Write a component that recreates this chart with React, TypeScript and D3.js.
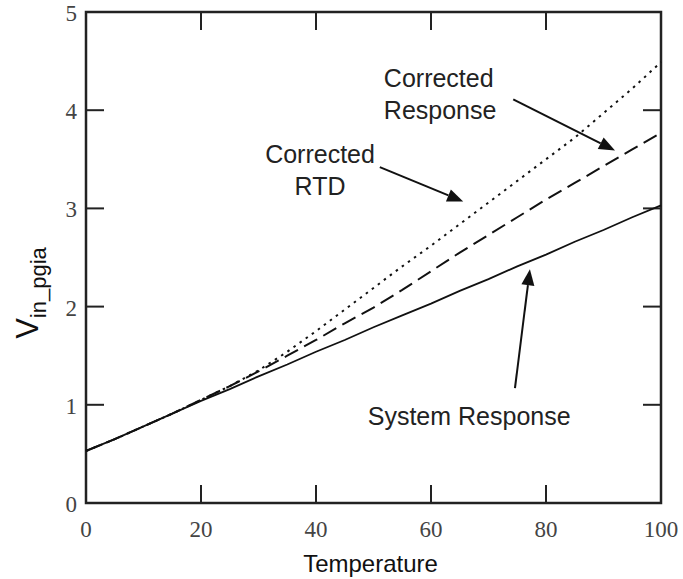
import React, { useEffect, useRef } from "react";
import * as d3 from "d3";

// temperature samples (x) and the three measured curves
const temps = [0, 5, 10, 15, 20, 25, 30, 35, 40, 45, 50, 55, 60, 65, 70, 75, 80, 85, 90, 95, 100];
const systemResponse = [0.53, 0.65, 0.78, 0.91, 1.04, 1.16, 1.29, 1.41, 1.54, 1.66, 1.79, 1.91, 2.03, 2.16, 2.28, 2.41, 2.53, 2.66, 2.78, 2.91, 3.03];
const correctedResponse = [0.53, 0.65, 0.78, 0.91, 1.05, 1.19, 1.34, 1.5, 1.66, 1.83, 1.99, 2.17, 2.36, 2.55, 2.73, 2.91, 3.09, 3.26, 3.43, 3.6, 3.77];
const correctedRTD = [0.53, 0.65, 0.78, 0.91, 1.05, 1.19, 1.35, 1.54, 1.75, 1.97, 2.19, 2.41, 2.62, 2.84, 3.06, 3.28, 3.5, 3.72, 3.97, 4.22, 4.49];

const xTicks = [0, 20, 40, 60, 80, 100];
const yTicks = [0, 1, 2, 3, 4, 5];

// annotations in data units: [x, y]
const notes = [
  { lines: ["Corrected", "RTD"], at: [40.7, 3.46], anchor: "middle", from: [51.1, 3.42], to: [65.6, 3.07] },
  { lines: ["Corrected", "Response"], at: [51.8, 4.24], anchor: "start", from: [74.3, 4.11], to: [92, 3.59] },
  { lines: ["System Response"], at: [49, 0.79], anchor: "start", from: [74.6, 1.17], to: [77.2, 2.38] },
];

export default function App() {
  const ref = useRef<SVGSVGElement>(null);

  useEffect(() => {
    const svg = d3.select(ref.current);
    svg.selectAll("*").remove();

    const W = 683, H = 579;
    const left = 86, right = 661, top = 12, bottom = 503;

    const x = d3.scaleLinear().domain([0, 100]).range([left, right]);
    const y = d3.scaleLinear().domain([0, 5]).range([bottom, top]);

    svg.append("rect").attr("width", W).attr("height", H).attr("fill", "#fff");

    const tickLen = 18;
    const axisColor = "#222";

    // ticks on all four sides, pointing in
    const tk = svg.append("g").attr("stroke", axisColor).attr("stroke-width", 2);
    xTicks.forEach((t) => {
      tk.append("line").attr("x1", x(t)).attr("x2", x(t)).attr("y1", bottom).attr("y2", bottom - tickLen);
      tk.append("line").attr("x1", x(t)).attr("x2", x(t)).attr("y1", top).attr("y2", top + tickLen);
    });
    yTicks.forEach((t) => {
      tk.append("line").attr("x1", left).attr("x2", left + tickLen).attr("y1", y(t)).attr("y2", y(t));
      tk.append("line").attr("x1", right).attr("x2", right - tickLen).attr("y1", y(t)).attr("y2", y(t));
    });

    // frame
    svg.append("rect")
      .attr("x", left).attr("y", top)
      .attr("width", right - left).attr("height", bottom - top)
      .attr("fill", "none").attr("stroke", axisColor).attr("stroke-width", 2.5);

    // tick labels
    const serif = "'Liberation Serif', 'DejaVu Serif', serif";
    svg.append("g").selectAll("text").data(xTicks).join("text")
      .attr("x", (d) => x(d)).attr("y", 537)
      .attr("text-anchor", "middle")
      .attr("font-family", serif).attr("font-size", 23).attr("fill", "#444")
      .text((d) => d);
    svg.append("g").selectAll("text").data(yTicks).join("text")
      .attr("x", left - 9).attr("y", (d) => y(d) + 9)
      .attr("text-anchor", "end")
      .attr("font-family", serif).attr("font-size", 23).attr("fill", "#444")
      .text((d) => d);

    const sans = "'Liberation Sans', Arial, sans-serif";

    // axis titles
    svg.append("text")
      .attr("x", (left + right) / 2 - 3).attr("y", 572)
      .attr("text-anchor", "middle")
      .attr("font-family", sans).attr("font-size", 24).attr("fill", "#111")
      .text("Temperature");

    const yl = svg.append("text")
      .attr("transform", "translate(38,293) rotate(-90)")
      .attr("text-anchor", "middle")
      .attr("font-family", sans).attr("fill", "#111");
    yl.append("tspan").attr("font-size", 31).text("V");
    yl.append("tspan").attr("font-size", 22).attr("dy", 8).text("in_pgia");

    // curves
    const line = d3.line<number>().x((_, i) => x(temps[i])).y((d) => y(d));
    const series = [
      { values: systemResponse, dash: null, w: 1.8 },
      { values: correctedResponse, dash: "15,7", w: 2 },
      { values: correctedRTD, dash: "2.5,5", w: 2 },
    ];
    svg.append("g").selectAll("path").data(series).join("path")
      .attr("d", (d) => line(d.values))
      .attr("fill", "none").attr("stroke", "#111").attr("stroke-width", (d) => d.w)
      .attr("stroke-dasharray", (d) => d.dash);

    // annotations + arrows
    notes.forEach((n) => {
      const t = svg.append("text")
        .attr("x", x(n.at[0])).attr("y", y(n.at[1]))
        .attr("text-anchor", n.anchor)
        .attr("font-family", sans).attr("font-size", 25).attr("fill", "#222");
      n.lines.forEach((s, i) => {
        t.append("tspan").attr("x", x(n.at[0])).attr("dy", i === 0 ? 0 : 32).text(s);
      });

      const x0 = x(n.from[0]), y0 = y(n.from[1]);
      const x1 = x(n.to[0]), y1 = y(n.to[1]);
      const a = Math.atan2(y1 - y0, x1 - x0);
      const hl = 16, hw = 6.5;
      const bx = x1 - hl * Math.cos(a), by = y1 - hl * Math.sin(a);
      svg.append("line")
        .attr("x1", x0).attr("y1", y0).attr("x2", bx).attr("y2", by)
        .attr("stroke", "#111").attr("stroke-width", 2);
      svg.append("path")
        .attr("d", `M${x1},${y1}L${bx - hw * Math.sin(a)},${by + hw * Math.cos(a)}L${bx + hw * Math.sin(a)},${by - hw * Math.cos(a)}Z`)
        .attr("fill", "#111");
    });
  }, []);

  return (
    <svg
      ref={ref}
      width={683}
      height={579}
      style={{ position: "absolute", left: 0, top: 0, display: "block" }}
    />
  );
}
